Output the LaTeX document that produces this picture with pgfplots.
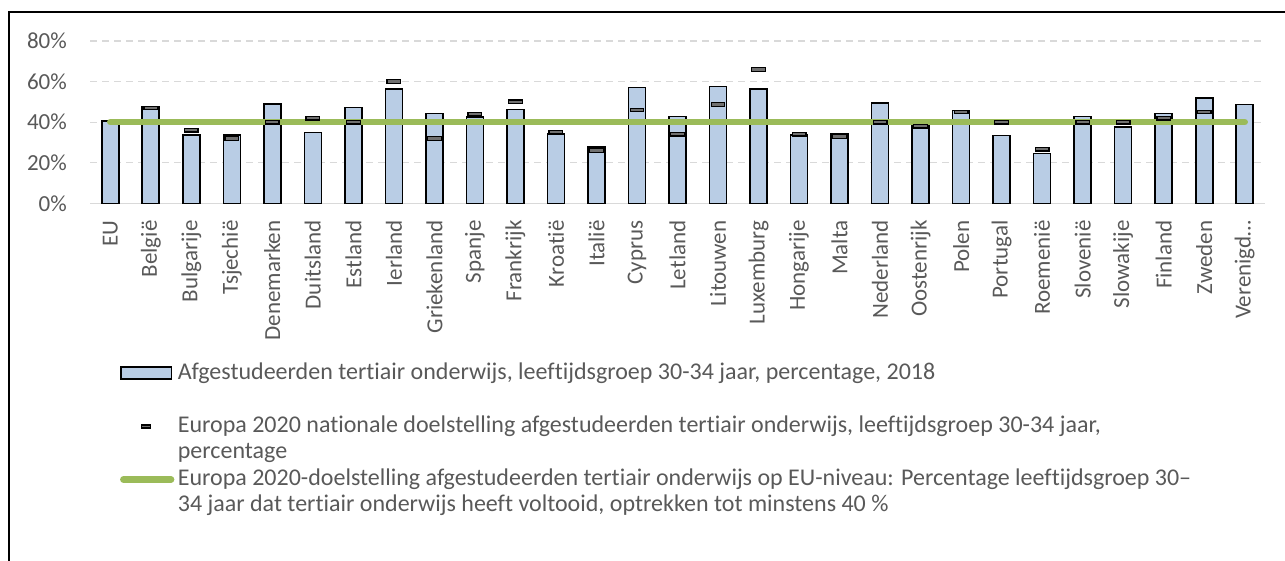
\documentclass[border=0pt]{standalone}
\usepackage{fontspec}
\setmainfont{Carlito}[Ligatures=NoCommon]
\usepackage{pgfplots}
\pgfplotsset{compat=1.18}
\usepackage{pgfplotstable}
\definecolor{barblue}{HTML}{B9CDE5}
\definecolor{tgreen}{HTML}{9BBB59}
\definecolor{mkgray}{HTML}{707070}
\definecolor{textgray}{HTML}{595959}
\definecolor{gridgray}{HTML}{D9D9D9}

\pgfdeclareplotmark{tgt}{%
  \pgfpathrectangle{\pgfqpoint{-6.8pt}{-1.8pt}}{\pgfqpoint{13.6pt}{3.6pt}}%
  \pgfusepathqfillstroke}

\pgfplotstableread{
x val tgt
0 40.7 nan
1 47.6 47
2 33.7 36
3 33.7 32
4 49.1 40
5 34.9 42
6 47.2 40
7 56.3 60
8 44.3 32
9 42.4 44
10 46.2 50
11 34.1 35
12 27.8 26
13 57.1 46
14 42.7 34
15 57.6 48.7
16 56.2 66
17 33.7 34
18 34.2 33
19 49.4 40
20 38.5 38
21 45.7 45
22 33.5 40
23 24.6 26.7
24 42.7 40
25 37.7 40
26 44.2 42
27 52.0 45
28 48.8 nan
}\datatable

\begin{document}
\begin{tikzpicture}
\useasboundingbox (0pt,0pt) rectangle (1285pt,-560pt);
\draw[line width=1.8pt] (9.2pt,-12pt) rectangle (1320pt,-600pt);
\begin{axis}[
  at={(90pt,-203.3pt)}, anchor=south west,
  scale only axis, width=1175pt, height=162.3pt,
  xmin=-0.5, xmax=28.5, ymin=0, ymax=80,
  axis x line*=bottom, axis y line*=left,
  x axis line style={draw=gridgray, line width=1.5pt},
  y axis line style={draw=none},
  major tick length=0pt,
  xtick={0,...,28},
  xticklabels={EU,België,Bulgarije,Tsjechië,Denemarken,Duitsland,Estland,Ierland,Griekenland,Spanje,Frankrijk,Kroatië,Italië,Cyprus,Letland,Litouwen,Luxemburg,Hongarije,Malta,Nederland,Oostenrijk,Polen,Portugal,Roemenië,Slovenië,Slowakije,Finland,Zweden,Verenigd…},
  ytick={0,20,40,60,80},
  yticklabel={\pgfmathprintnumber{\tick}\%},
  /pgf/number format/assume math mode=true,
  ymajorgrids,
  grid style={draw=gridgray, line width=1.3pt, dash pattern=on 7pt off 5pt},
  tick label style={font=\fontsize{23}{27}\selectfont, text=textgray},
  xticklabel style={rotate=90, anchor=east, inner sep=0pt},
  xticklabel shift=17pt,
  yticklabel style={anchor=east, inner sep=0pt},
  yticklabel shift=23pt,
  unbounded coords=discard,
  legend cell align=left,
  legend style={at={(0,0)}, anchor=north west, xshift=30.1pt, yshift=-158.7pt,
    draw=none, fill=none, inner sep=0pt, outer sep=0pt, row sep=3.5pt, column sep=3.5pt,
    font=\fontsize{24}{28}\selectfont, text=textgray,
    nodes={inner sep=0pt, text height=17pt, text depth=6pt}},
]
\addplot[ybar, bar width=17pt, fill=barblue, draw=black, line width=1.6pt,
  legend image code/.code={\draw[fill=barblue, draw=black, line width=1.6pt] (0.8pt,-5.5pt) rectangle (51.5pt,6.5pt);}]
  table[x=x, y=val] {\datatable};
\addlegendentry{Afgestudeerden tertiair onderwijs, leeftijdsgroep 30-34 jaar, percentage, 2018}
\addlegendimage{empty legend}
\addlegendentry{\mbox{}}
\addplot[tgreen, line width=6.5pt, line cap=round, forget plot] coordinates {(0,40) (28,40)};
\addplot[only marks, mark=tgt, mark options={fill=mkgray, draw=black, line width=1.3pt},
  legend image code/.code={\draw[fill=mkgray, draw=black, line width=1.1pt] (21pt,-1.5pt) rectangle (30pt,1.5pt);}]
  table[x=x, y=tgt] {\datatable};
\addlegendentry{Europa 2020 nationale doelstelling afgestudeerden tertiair onderwijs, leeftijdsgroep 30-34 jaar,}
\addlegendimage{empty legend}
\addlegendentry{percentage}
\addlegendimage{legend image code/.code={\draw[tgreen, line width=6.5pt, line cap=round] (3.25pt,0pt) -- (51pt,0pt);}}
\addlegendentry{Europa 2020-doelstelling afgestudeerden tertiair onderwijs op EU-niveau: Percentage leeftijdsgroep 30–}
\addlegendimage{empty legend}
\addlegendentry{34 jaar dat tertiair onderwijs heeft voltooid, optrekken tot minstens 40 \%}
\end{axis}
\end{tikzpicture}
\end{document}
